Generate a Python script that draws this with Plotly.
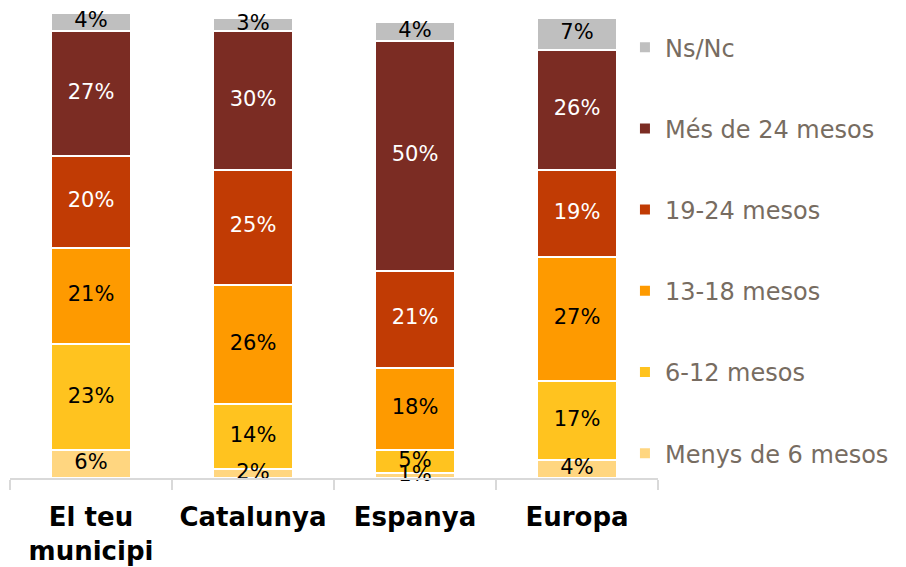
import plotly.graph_objects as go

# Categories on the x axis (first one wraps onto two lines)
categories = ["El teu<br>municipi", "Catalunya", "Espanya", "Europa"]

# Share of respondents (%) for each time band, bottom to top of the stack
menys_6 = [6, 2, 1, 4]
mesos_6_12 = [23, 14, 5, 17]
mesos_13_18 = [21, 26, 18, 27]
mesos_19_24 = [20, 25, 21, 19]
mes_24 = [27, 30, 50, 26]
ns_nc = [4, 3, 4, 7]

series = [
    ("Menys de 6 mesos", menys_6, "#ffd680", "#000000"),
    ("6-12 mesos", mesos_6_12, "#ffc31f", "#000000"),
    ("13-18 mesos", mesos_13_18, "#fe9a00", "#000000"),
    ("19-24 mesos", mesos_19_24, "#c13b04", "#ffffff"),
    ("Més de 24 mesos", mes_24, "#7b2c23", "#ffffff"),
    ("Ns/Nc", ns_nc, "#bfbfbf", "#000000"),
]

FONT = "DejaVu Sans"

fig = go.Figure()

# Stacked bars; the legend lists the top of the stack first
n = len(series)
for i, (name, vals, color, _) in enumerate(series):
    fig.add_trace(go.Bar(
        x=categories,
        y=vals,
        name=name,
        legendgroup=name,
        legendrank=n - i,
        marker=dict(color=color, line=dict(color="#ffffff", width=2)),
        width=0.49,
        hoverinfo="skip",
    ))

# Percentage labels centred on each segment, drawn above every bar so that
# labels of thin segments stay readable
base = [0] * len(categories)
for name, vals, _, txtcolor in series:
    mids = [b + v / 2 for b, v in zip(base, vals)]
    fig.add_trace(go.Scatter(
        x=categories,
        y=mids,
        mode="text",
        text=[f"{v}%" for v in vals],
        textposition="middle center",
        textfont=dict(family=FONT, size=21, color=txtcolor),
        cliponaxis=False,
        showlegend=False,
        hoverinfo="skip",
    ))
    base = [b + v for b, v in zip(base, vals)]

fig.update_layout(
    width=906,
    height=567,
    barmode="stack",
    bargap=0.5,
    plot_bgcolor="#ffffff",
    paper_bgcolor="#ffffff",
    margin=dict(l=10, r=248, t=13, b=89),
    showlegend=True,
    legend=dict(
        traceorder="grouped",
        tracegroupgap=47,
        font=dict(family=FONT, size=24, color="#776c61"),
        x=0.949,
        xanchor="left",
        y=0.974,
        yanchor="top",
        bgcolor="rgba(0,0,0,0)",
    ),
    xaxis=dict(
        type="category",
        range=[-0.5, 3.5],
        automargin=False,
        showline=True,
        linecolor="#d9d9d9",
        linewidth=2,
        ticks="outside",
        tickson="boundaries",
        ticklen=10,
        tickwidth=2,
        tickcolor="#d9d9d9",
        showgrid=False,
        tickangle=0,
        ticklabelstandoff=15,
        tickfont=dict(family=FONT, size=26, color="#000000", weight="bold"),
    ),
    yaxis=dict(
        range=[0, 101],
        visible=False,
        automargin=False,
        showgrid=False,
        zeroline=False,
    ),
)

fig.write_html("out.html")
